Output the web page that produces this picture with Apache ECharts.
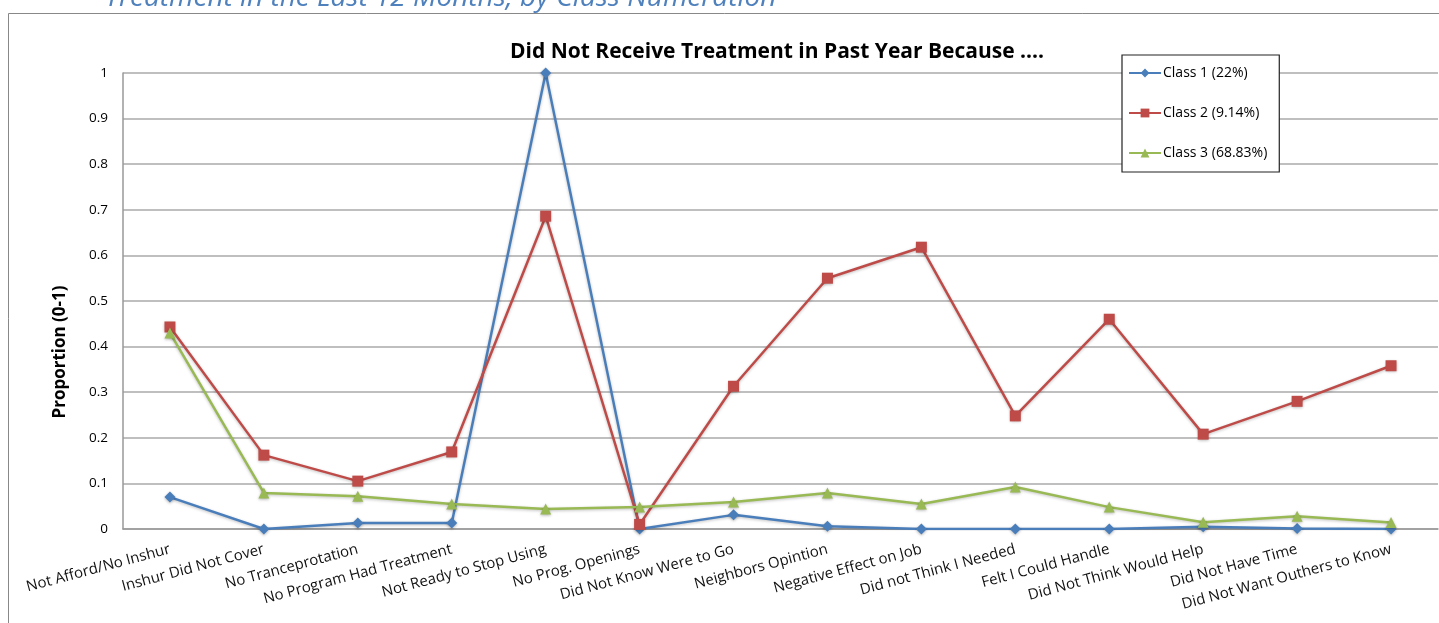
<!DOCTYPE html>
<html>
<head>
<meta charset="utf-8">
<script src="https://cdn.jsdelivr.net/npm/echarts@6/dist/echarts.min.js"></script>
<style>
  html, body { margin: 0; padding: 0; background: #fff; }
  #chart { width: 1439px; height: 623px; }
</style>
</head>
<body>
<div id="chart"></div>
<script>
// Reasons for not receiving treatment, one point per reason
const categories = [
  'Not Afford/No Inshur', 'Inshur Did Not Cover', 'No Tranceprotation',
  'No Program Had Treatment', 'Not Ready to Stop Using', 'No Prog. Openings',
  'Did Not Know Were to Go', 'Neighbors Opintion', 'Negative Effect on Job',
  'Did not Think I Needed', 'Felt I Could Handle', 'Did Not Think Would Help',
  'Did Not Have Time', 'Did Not Want Outhers to Know'
];

const class1 = [0.07, 0.0, 0.013, 0.013, 1.0, 0.0, 0.031, 0.006, 0.0, 0.0, 0.0, 0.005, 0.001, 0.0];
const class2 = [0.443, 0.162, 0.105, 0.169, 0.686, 0.01, 0.313, 0.55, 0.618, 0.248, 0.46, 0.208, 0.28, 0.358];
const class3 = [0.43, 0.079, 0.072, 0.055, 0.044, 0.048, 0.059, 0.079, 0.055, 0.092, 0.048, 0.015, 0.028, 0.014];

const seriesNames = ['Class 1 (22%)', 'Class 2 (9.14%)', 'Class 3 (68.83%)'];
const yTicks = [0, 0.1, 0.2, 0.3, 0.4, 0.5, 0.6, 0.7, 0.8, 0.9, 1];

const FONT = '"Liberation Sans Narrow", "Open Sans", "Noto Sans", sans-serif';
const BODY = '"Open Sans", "Noto Sans", sans-serif';

const chart = echarts.init(document.getElementById('chart'), null, { renderer: 'canvas' });

function lineSeries(name, data, color, symbol, size) {
  return {
    name: name,
    type: 'line',
    data: data,
    symbol: symbol,
    symbolSize: size,
    showAllSymbol: true,
    animation: false,
    lineStyle: { color: color, width: 2.5, shadowColor: 'rgba(0,0,0,0.25)', shadowBlur: 3, shadowOffsetY: 1 },
    itemStyle: { color: color, shadowColor: 'rgba(0,0,0,0.3)', shadowBlur: 3, shadowOffsetY: 1 }
  };
}

chart.setOption({
  backgroundColor: '#fff',
  animation: false,
  title: {
    text: 'Did Not Receive Treatment in Past Year Because ....',
    left: 772,
    textAlign: 'center',
    top: 37,
    textStyle: { fontFamily: FONT, fontSize: 21, fontWeight: 'bold', color: '#000' }
  },
  legend: {
    orient: 'vertical',
    left: 1122,
    top: 55,
    itemGap: 26,
    itemWidth: 32,
    itemHeight: 11,
    padding: [11, 12, 12, 6],
    borderColor: '#222',
    borderWidth: 1.2,
    backgroundColor: '#fff',
    data: seriesNames,
    textStyle: { fontFamily: BODY, fontSize: 14, color: '#000', padding: [0, 0, 0, -3] }
  },
  grid: { left: 123, right: 1, top: 73, bottom: 94, containLabel: false },
  xAxis: {
    type: 'category',
    data: categories,
    boundaryGap: true,
    axisLine: { lineStyle: { color: '#999', width: 1.5 } },
    axisTick: { show: false },
    axisLabel: {
      interval: 0,
      rotate: 15,
      margin: 20,
      fontFamily: BODY,
      fontSize: 15,
      color: '#111'
    }
  },
  yAxis: {
    type: 'value',
    min: 0,
    max: 1,
    interval: 0.1,
    axisLine: { show: true, lineStyle: { color: '#999', width: 1.5 } },
    axisTick: { show: false },
    splitLine: { lineStyle: { color: '#aaa', width: 1.5 } },
    axisLabel: {
      margin: 15,
      fontFamily: BODY,
      fontSize: 13.5,
      color: '#000',
      formatter: function (v) {
        const t = yTicks.find(function (k) { return Math.abs(k - v) < 1e-9; });
        return t === undefined ? '' : String(t);
      }
    }
  },
  graphic: [
    {
      type: 'rect',
      shape: { x: 8.5, y: 13.5, width: 1440, height: 620 },
      style: { fill: 'none', stroke: '#888', lineWidth: 1 },
      z: -1
    },
    {
      type: 'text',
      x: 105,
      y: 12,
      style: {
        text: 'Treatment in the Last 12 Months, by Class Numeration',
        fontFamily: BODY,
        fontSize: 28,
        fontStyle: 'italic',
        fill: '#4f81bd',
        verticalAlign: 'bottom'
      }
    },
    {
      type: 'text',
      x: 60,
      y: 352,
      rotation: Math.PI / 2,
      style: {
        text: 'Proportion (0-1)',
        fontFamily: BODY,
        fontSize: 17,
        fontWeight: 'bold',
        fill: '#000',
        align: 'center',
        verticalAlign: 'middle'
      }
    }
  ],
  series: [
    lineSeries(seriesNames[0], class1, '#4a7ebb', 'diamond', 11),
    lineSeries(seriesNames[1], class2, '#be4b48', 'rect', 11),
    lineSeries(seriesNames[2], class3, '#98b954', 'triangle', 11)
  ]
});
</script>
</body>
</html>
